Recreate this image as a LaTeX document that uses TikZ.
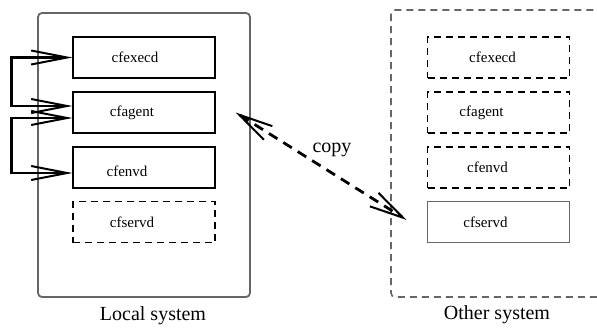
\documentclass[tikz,border=0pt]{standalone}
\usepackage{fontspec}
\setmainfont{Liberation Serif}
\usetikzlibrary{arrows.meta}
\begin{document}
\begin{tikzpicture}[x=1pt,y=-1pt,
  sysbox/.style={draw=black!60,line width=1.8pt,rounded corners=4pt},
  othbox/.style={draw=black!60,line width=1.6pt,rounded corners=4pt,dash pattern=on 7pt off 5pt},
  procbox/.style={draw=black,line width=1.2pt,minimum width=142pt,minimum height=41pt,inner sep=0pt},
  dproc/.style={procbox,dash pattern=on 7pt off 5pt},
  gproc/.style={procbox,draw=black!60,line width=1.6pt},
  ptxt/.style={font=\fontsize{15}{17}\selectfont,inner sep=0pt},
  stxt/.style={font=\fontsize{20}{22}\selectfont,inner sep=0pt},
  barb/.tip={Straight Barb[length=36pt,width=14pt,line width=2pt]},
  loopline/.style={draw=black,line width=2.4pt,{barb}-{barb}},
  copyline/.style={draw=black,line width=2.8pt,dash pattern=on 10pt off 7pt,
     {Straight Barb[length=34pt,width=16pt,line width=2pt]}-{Straight Barb[length=34pt,width=16pt,line width=2pt]}}
]
\clip (0,0) rectangle (597,327);
\fill[white] (0,0) rectangle (597,327);
% outer systems
\draw[sysbox] (38,13) rectangle (250,297);
\draw[othbox] (391,10) rectangle (630,297);
% local processes
\node[procbox] (le) at (144,57.5) {};
\node[procbox] (la) at (144,112.5) {};
\node[procbox] (lv) at (144,167.5) {};
\node[dproc]   (ls) at (144,222) {};
\node[ptxt] at ([xshift=-9pt]le.center) {cfexecd};
\node[ptxt] at ([xshift=-12pt]la.center) {cfagent};
\node[ptxt] at ([shift={(-17pt,-4pt)}]lv.center) {cfenvd};
\node[ptxt] at ([xshift=-12pt]ls.center) {cfservd};
% other processes
\node[dproc] (oe) at (498.5,57.5) {};
\node[dproc] (oa) at (498.5,112.5) {};
\node[dproc] (ov) at (498.5,167.5) {};
\node[gproc] (os) at (498.5,222) {};
\node[ptxt] at ([xshift=-6pt]oe.center) {cfexecd};
\node[ptxt] at ([xshift=-17pt]oa.center) {cfagent};
\node[ptxt] at ([xshift=-11pt]ov.center) {cfenvd};
\node[ptxt] at ([xshift=-13pt]os.center) {cfservd};
% labels
\node[stxt] at (153,316) {Local system};
\node[stxt] at (497,315) {Other system};
\node[stxt] at (332,150) {copy};
% loop connectors
\draw[loopline] (le.west) -- ++(-61,0) |- ([yshift=6.5pt]la.west);
\draw[loopline] ([yshift=-5.5pt]la.west) -- ++(-61,0) |- ([yshift=-5.5pt]lv.west);
% copy connector
\draw[copyline] ([shift={(20pt,0pt)}]la.east) -- ([shift={(-20pt,2pt)}]os.west);
\end{tikzpicture}
\end{document}
